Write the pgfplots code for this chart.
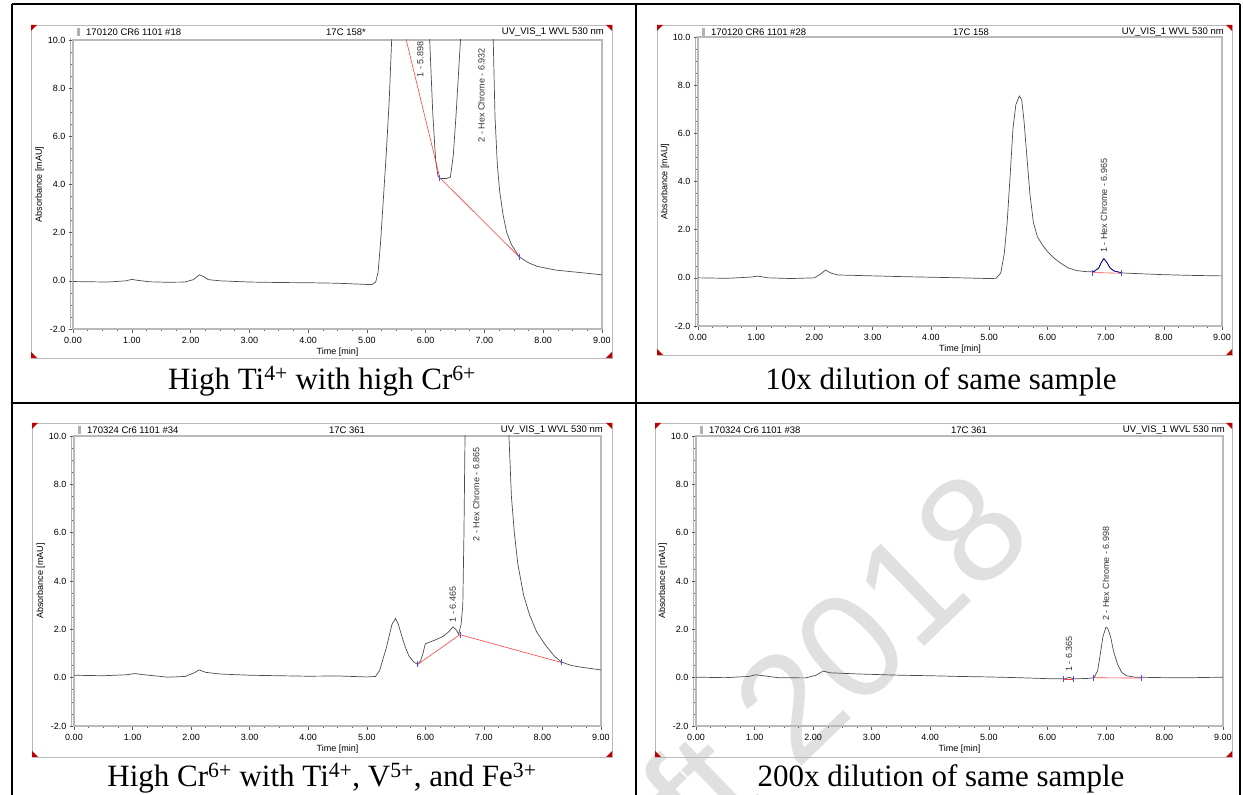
\documentclass[border=0pt]{standalone}
\usepackage{pgfplots}
\pgfplotsset{compat=1.18}
\usepackage{fontspec}
\setmainfont{Liberation Serif}
\newfontfamily\arial{Liberation Sans}
\newcommand\tickfont{\arial\fontsize{9}{10}\selectfont}
\newcommand\hdrfont{\arial\fontsize{9.5}{11}\selectfont}
\newcommand\lblfont{\arial\fontsize{9}{10}\selectfont}
\newcommand\capfont{\fontsize{31}{34}\selectfont}

\pgfplotsset{
 chrom/.style={
  scale only axis,
  xmin=0, xmax=9, ymin=-2, ymax=10,
  axis line style={draw=gray!55, line width=1.1pt},
  xtick={0,1,...,9}, ytick={-2,0,2,4,6,8,10},
  minor x tick num=3, minor y tick num=3,
  tick align=outside, xtick pos=lower, ytick pos=left,
  major tick length=4pt, minor tick length=2pt,
  every tick/.style={gray!70!black, line width=0.5pt},
  tick label style={font=\tickfont},
  /pgf/number format/assume math mode=true,
  x tick label style={yshift=-1pt, /pgf/number format/.cd, fixed, fixed zerofill, precision=2},
  y tick label style={/pgf/number format/.cd, fixed, fixed zerofill, precision=1},
  xlabel={Time [min]}, ylabel={Absorbance [mAU]},
  every axis x label/.style={at={(axis description cs:0.5,-0.08)}, anchor=center, font=\tickfont},
  every axis y label/.style={at={(axis description cs:-0.063,0.5)}, rotate=90, anchor=center, font=\tickfont},
  clip mode=individual,
 },
 trace/.style={draw=black!70, line width=0.7pt, mark=none},
 base/.style={draw=red!75, line width=0.6pt, mark=none},
 bmark/.style={only marks, mark=|, mark size=3pt, mark options={draw=blue!70, line width=0.6pt}},
}
\tikzset{plbl/.style={rotate=90, anchor=west, font=\lblfont, inner sep=1pt, text=black!80}}

% frame: #1 x0, #2 ytop, #3 x1, #4 ybot (pixels from top), #5 plot left, #6 plot right, #7 left text, #8 centre text
\newcommand\chromframe[8]{%
 \draw[gray!55, line width=0.8pt] (#1,{795-#2}) rectangle (#3,{795-#4});
 \fill[red!75!black] (#1,{795-#2}) -- ++(6,0) -- ++(-6,-6) -- cycle;
 \fill[red!75!black] (#3,{795-#2}) -- ++(-6,0) -- ++(6,-6) -- cycle;
 \fill[red!75!black] (#1,{795-#4}) -- ++(6,0) -- ++(-6,6) -- cycle;
 \fill[red!75!black] (#3,{795-#4}) -- ++(-6,0) -- ++(6,6) -- cycle;
 \fill[gray!60] ({#5+4},{795-#2-3}) rectangle ++(3,-8);
 \draw[gray!60, line width=0.6pt] ({#5-2.5},{795-#2-13}) -- ({#5-2.5},{795-#2-13-290});
 \node[anchor=west, font=\hdrfont, inner sep=0pt] at ({#5+13},{795-#2-7.5}) {#7};
 \node[font=\hdrfont, inner sep=0pt] at ({#5+273},{795-#2-7.5}) {#8};
 \node[anchor=east, font=\hdrfont, inner sep=0pt] at ({#6+2},{795-#2-7.5}) {UV\_VIS\_1 WVL 530 nm};
}

\begin{document}
\begin{tikzpicture}[x=1pt,y=1pt]
% watermark
\node[rotate=44, anchor=base east, text=black!12, font=\arial\fontsize{151}{151}\selectfont, inner sep=0pt] at (1038,257) {Draft 2018};

% table lines
\draw[line width=2.2pt] (12,791) -- (1240,791);
\draw[line width=2.2pt] (12,791) -- (12,-5);
\draw[line width=2.2pt] (1240,791) -- (1240,-5);
\draw[line width=2.2pt] (636,791) -- (636,-5);
\draw[line width=2.2pt] (12,392) -- (1240,392);

% captions
\node[anchor=base, font=\capfont, inner sep=0pt] at (322,405) {High Ti\textsuperscript{4+} with high Cr\textsuperscript{6+}};
\node[anchor=base, font=\capfont, inner sep=0pt] at (941,405) {10x dilution of same sample};
\node[anchor=base, font=\capfont, inner sep=0pt] at (322,8.5) {High Cr\textsuperscript{6+} with Ti\textsuperscript{4+}, V\textsuperscript{5+}, and Fe\textsuperscript{3+}};
\node[anchor=base, font=\capfont, inner sep=0pt] at (941,8.5) {200x dilution of same sample};

\coordinate (TL) at (73pt,466pt);
\coordinate (TR) at (698pt,469pt);
\coordinate (BL) at (74pt,69pt);
\coordinate (BR) at (696pt,69pt);

% ---------- top left ----------
\chromframe{31}{25}{612}{358}{73}{602}{170120 CR6 1101 \#18}{17C 158*}
\begin{axis}[chrom, at={(TL)}, anchor=south west, width=529pt, height=289pt]
\addplot[trace] coordinates {
(0,-0.03) (0.3,-0.04) (0.6,-0.05) (0.9,0.0) (1.0,0.06) (1.1,0.02) (1.3,-0.04) (1.6,-0.06)
(1.9,-0.05) (2.05,0.05) (2.15,0.25) (2.22,0.18) (2.3,0.05) (2.5,0.0) (3.0,-0.05) (3.5,-0.07)
(4.0,-0.08) (4.5,-0.1) (5.0,-0.15) (5.09,-0.15) (5.15,-0.05) (5.19,0.35) (5.23,1.5) (5.27,3.0)
(5.33,5.3) (5.38,7.5) (5.43,10.5) (5.45,12) (6.04,12) (6.06,10.5) (6.12,7.0) (6.17,5.0)
(6.21,4.35) (6.25,4.25) (6.35,4.25) (6.42,4.3) (6.47,5.2) (6.52,7.0) (6.58,9.5) (6.62,11)
(6.64,12) (7.12,12) (7.14,11) (7.18,6.8) (7.22,4.8) (7.26,3.7) (7.32,2.7) (7.38,2.0)
(7.46,1.5) (7.59,1.0) (7.75,0.75) (7.9,0.6) (8.2,0.45) (8.6,0.35) (9.0,0.25)};
\addplot[base] coordinates {(5.52,11.5) (6.24,4.28) (7.59,1.0)};
\addplot[bmark] coordinates {(6.24,4.28) (7.59,1.0)};
\node[plbl] at (axis cs:5.91,8.4) {1 - 5.898};
\node[plbl] at (axis cs:6.95,5.7) {2 - Hex Chrome - 6.932};
\end{axis}

% ---------- top right ----------
\chromframe{657}{25}{1232}{355}{698}{1222}{170120 CR6 1101 \#28}{17C 158}
\begin{axis}[chrom, at={(TR)}, anchor=south west, width=524pt, height=289pt]
\addplot[trace] coordinates {
(0,0.0) (0.5,-0.02) (0.9,0.03) (1.03,0.07) (1.2,0.0) (1.6,-0.03) (2.0,0.0) (2.1,0.15)
(2.19,0.32) (2.28,0.2) (2.4,0.12) (2.7,0.1) (3.5,0.05) (4.5,0.0) (5.0,-0.03) (5.12,-0.02)
(5.2,0.2) (5.26,1.0) (5.31,2.3) (5.36,4.2) (5.41,6.2) (5.46,7.2) (5.52,7.55) (5.56,7.4)
(5.6,6.5) (5.65,5.0) (5.7,3.5) (5.76,2.3) (5.83,1.7) (5.92,1.35) (6.0,1.1) (6.1,0.85)
(6.2,0.66) (6.35,0.42) (6.5,0.3) (6.7,0.25) (6.8,0.26) (6.88,0.4) (6.93,0.65) (6.97,0.8)
(7.02,0.65) (7.08,0.4) (7.15,0.28) (7.3,0.2) (7.6,0.17) (8.0,0.13) (8.5,0.1) (9.0,0.08)};
\addplot[draw=blue!60!black, line width=0.7pt, mark=none] coordinates {
(6.77,0.25) (6.8,0.26) (6.88,0.4) (6.93,0.65) (6.97,0.8) (7.02,0.65) (7.08,0.4) (7.15,0.28) (7.27,0.21)};
\addplot[base] coordinates {(6.77,0.22) (7.27,0.19)};
\addplot[bmark] coordinates {(6.77,0.22) (7.27,0.19)};
\node[plbl] at (axis cs:6.97,1.0) {1 - Hex Chrome - 6.965};
\end{axis}

% ---------- bottom left ----------
\chromframe{32}{423}{612}{757}{74}{601}{170324 Cr6 1101 \#34}{17C 361}
\begin{axis}[chrom, at={(BL)}, anchor=south west, width=527pt, height=290pt]
\addplot[trace] coordinates {
(0,0.1) (0.5,0.08) (0.9,0.12) (1.03,0.17) (1.2,0.12) (1.6,0.02) (1.9,0.05) (2.05,0.2)
(2.14,0.32) (2.25,0.22) (2.5,0.15) (3.0,0.1) (3.5,0.08) (4.0,0.06) (4.5,0.07) (5.0,0.03)
(5.15,0.05) (5.22,0.3) (5.28,0.8) (5.33,1.2) (5.38,1.7) (5.43,2.2) (5.49,2.45) (5.54,2.2)
(5.6,1.7) (5.66,1.25) (5.72,0.9) (5.8,0.65) (5.87,0.55) (5.92,0.7) (5.96,1.0) (6.0,1.4)
(6.05,1.45) (6.16,1.55) (6.3,1.7) (6.4,1.9) (6.47,2.1) (6.52,2.0) (6.57,1.8) (6.61,2.2)
(6.64,3.0) (6.66,6.0) (6.68,10.5) (6.7,12) (7.35,12) (7.42,10.5) (7.47,7.5) (7.52,6.0)
(7.58,4.7) (7.68,3.4) (7.78,2.6) (7.9,1.9) (8.05,1.35) (8.2,0.9) (8.32,0.65) (8.5,0.5)
(8.7,0.42) (9.0,0.32)};
\addplot[base] coordinates {(5.87,0.55) (6.59,1.78) (8.32,0.63)};
\addplot[bmark] coordinates {(5.87,0.55) (6.59,1.78) (8.32,0.63)};
\node[plbl] at (axis cs:6.47,2.25) {1 - 6.465};
\node[plbl] at (axis cs:6.87,5.6) {2 - Hex Chrome - 6.865};
\end{axis}

% ---------- bottom right ----------
\chromframe{655}{423}{1232}{757}{696}{1223}{170324 Cr6 1101 \#38}{17C 361}
\begin{axis}[chrom, at={(BR)}, anchor=south west, width=527pt, height=290pt]
\addplot[trace] coordinates {
(0,0.02) (0.5,0.0) (0.9,0.05) (1.02,0.12) (1.15,0.08) (1.4,0.0) (1.87,-0.01) (2.05,0.1)
(2.17,0.27) (2.3,0.2) (2.5,0.18) (2.8,0.15) (3.5,0.1) (4.0,0.08) (4.5,0.05) (5.0,0.03)
(5.5,0.0) (6.0,-0.04) (6.3,-0.05) (6.37,0.02) (6.45,-0.05) (6.7,-0.03) (6.8,0.0) (6.86,0.3)
(6.9,0.9) (6.95,1.7) (7.0,2.08) (7.03,2.05) (7.08,1.7) (7.13,1.1) (7.2,0.55) (7.27,0.22)
(7.35,0.08) (7.5,0.02) (8.0,0.0) (8.5,0.0) (9.0,0.02)};
\addplot[base] coordinates {(6.27,-0.05) (6.45,-0.05)};
\addplot[base] coordinates {(6.78,0.0) (7.6,-0.02)};
\addplot[bmark] coordinates {(6.27,-0.05) (6.45,-0.05) (6.78,0.0) (7.6,-0.02)};
\node[plbl] at (axis cs:6.37,0.2) {1 - 6.365};
\node[plbl] at (axis cs:7.0,2.3) {2 - Hex Chrome - 6.998};
\end{axis}

\pgfresetboundingbox
\path[use as bounding box] (0,0) rectangle (1243,795);
\end{tikzpicture}
\end{document}
